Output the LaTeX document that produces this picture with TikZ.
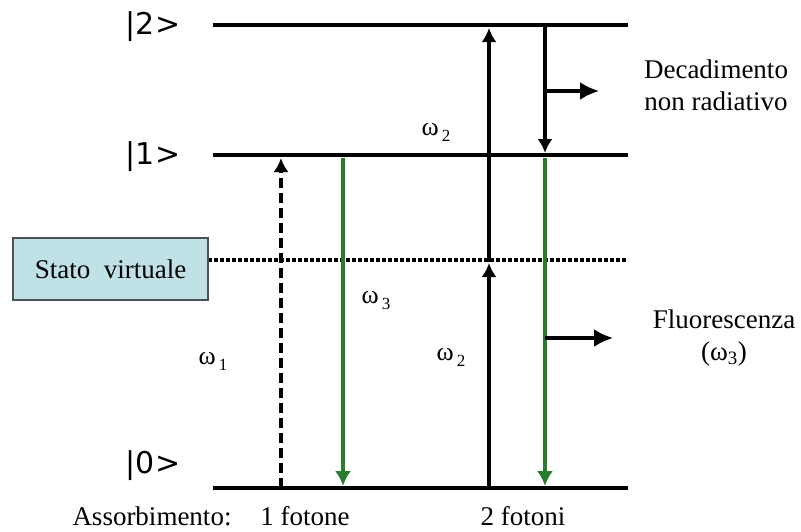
\documentclass[tikz,border=0pt]{standalone}
\usepackage{fontspec}
\setmainfont{Liberation Serif}
\newfontfamily\ketfont{DejaVu Sans}
\usetikzlibrary{arrows.meta, positioning}
\definecolor{lgreen}{RGB}{38,125,45}
\definecolor{lboxfill}{RGB}{192,226,231}
\definecolor{lboxdraw}{RGB}{75,82,86}
\newcommand\omsub[1]{ω\kern3pt\raisebox{-6pt}{\fontsize{17}{17}\selectfont #1}}
\tikzset{
  level/.style={line width=4.5pt},
  virt/.style={line width=4.5pt, dash pattern=on 4pt off 2pt},
  ket/.style={font=\ketfont\fontsize{30}{32}\selectfont, inner sep=0pt},
  lbl/.style={font=\fontsize{27}{32}\selectfont, align=center, inner sep=0pt},
  omg/.style={font=\fontsize{26}{28}\selectfont, inner sep=0pt},
  absarr/.style={-{Latex[length=14pt,width=15pt]}, line width=3.2pt},
  dasharr/.style={-{Latex[length=14pt,width=15pt]}, line width=3.8pt,
                  dash pattern=on 10pt off 5pt},
  emarr/.style={-{Latex[length=15pt,width=16pt]}, lgreen, line width=3.2pt},
  outarr/.style={-{Latex[length=19pt,width=18pt]}, line width=3.2pt},
  vbox/.style={draw=lboxdraw, fill=lboxfill, line width=2pt,
               minimum width=195pt, minimum height=62pt, inner sep=0pt,
               font=\fontsize{27}{28}\selectfont},
}

\begin{document}
\begin{tikzpicture}[x=1pt, y=-1pt, >=Latex]
  \useasboundingbox (0,0) rectangle (801,531);

  %% ── levels ──
  \coordinate (l2w) at (213,25);  \coordinate (l2e) at (628,25);
  \coordinate (l1w) at (213,155); \coordinate (l1e) at (628,155);
  \coordinate (l0w) at (213,488); \coordinate (l0e) at (628,488);
  \coordinate (lvw) at (208,260); \coordinate (lve) at (628,260);
  \draw[level] (l2w) -- (l2e);
  \draw[level] (l1w) -- (l1e);
  \draw[level] (l0w) -- (l0e);
  \draw[virt]  (lvw) -- (lve);

  \node[ket] (k2) at (153,27)  {|2>};
  \node[ket] (k1) at (153,157) {|1>};
  \node[ket] (k0) at (153,466) {|0>};

  \node[vbox] (sv) at (110.5,269) {Stato\ \ virtuale};

  %% ── 1 fotone ──
  \coordinate (a1s) at (281,488); \coordinate (a1t) at (281,158);
  \draw[dasharr] (a1s) -- (a1t);
  \coordinate (f1s) at (343,158); \coordinate (f1t) at (343,486);
  \draw[emarr] (f1s) -- (f1t);
  \node[omg] (w1) at (213,361) {\omsub{1}};
  \node[omg] (w3) at (376,300) {\omsub{3}};

  %% ── 2 fotoni ──
  \coordinate (b1s) at (489,488); \coordinate (b1t) at (489,263);
  \coordinate (b2s) at (489,262); \coordinate (b2t) at (489,28);
  \draw[absarr] (b1s) -- (b1t);
  \draw[absarr] (b2s) -- (b2t);
  \node[omg] (w2a) at (436,132) {\omsub{2}};
  \node[omg] (w2b) at (451,357) {\omsub{2}};

  \coordinate (d1s) at (545,27);  \coordinate (d1t) at (545,153);
  \draw[absarr] (d1s) -- (d1t);
  \coordinate (f2s) at (545,158); \coordinate (f2t) at (545,486);
  \draw[emarr] (f2s) -- (f2t);

  \coordinate (o1s) at (545,91);  \coordinate (o1t) at (599,91);
  \draw[outarr] (o1s) -- (o1t);
  \coordinate (o2s) at (545,338); \coordinate (o2t) at (613,338);
  \draw[outarr] (o2s) -- (o2t);

  \node[lbl] (dec) at (716,85) {Decadimento\\non radiativo};
  \node[lbl] (flu) at (724,338) {Fluorescenza\\(ω\textsubscript{3})};

  %% ── bottom labels ──
  \node[lbl] (ass) at (152,516) {Assorbimento:};
  \node[lbl] (n1)  at (305,516) {1 fotone};
  \node[lbl] (n2)  at (523,516) {2 fotoni};
\end{tikzpicture}
\end{document}
